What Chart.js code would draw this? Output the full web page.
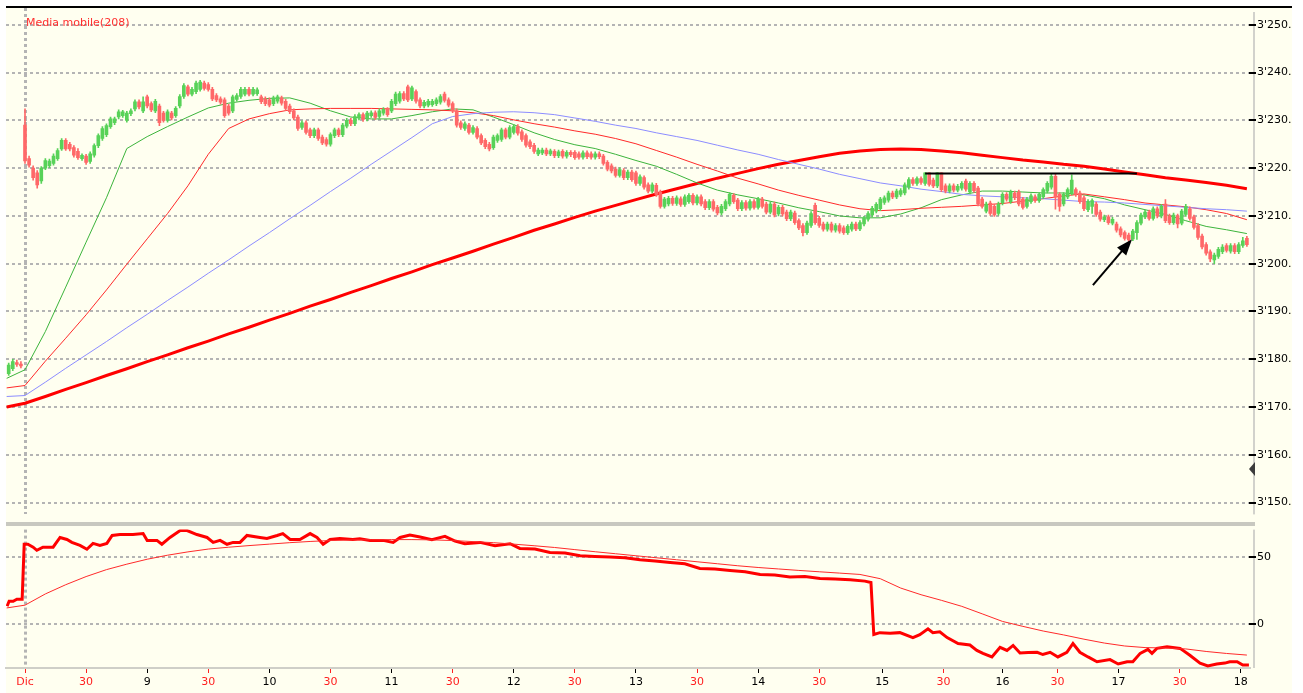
<!DOCTYPE html>
<html>
<head>
<meta charset="utf-8">
<title>Media mobile(208)</title>
<script src="https://cdn.jsdelivr.net/npm/chart.js@4.4.1/dist/chart.umd.min.js"></script>
<style>
  html, body { margin: 0; padding: 0; background: #fff; }
  #wrap { position: relative; width: 1303px; height: 693px; overflow: hidden; }
  .pane { position: absolute; left: 0; width: 1303px; }
  #price-pane { top: 0; height: 522px; }
  #osc-pane { top: 522px; height: 171px; }
</style>
</head>
<body>
<div id="wrap">
  <div class="pane" id="price-pane"><canvas id="price-chart"></canvas></div>
  <div class="pane" id="osc-pane"><canvas id="osc-chart"></canvas></div>
</div>
<script>
// x axis runs in 2-minute bar units, bar 0 = first bar of the day ("Dic")
const timeTickBars = [0, 15, 30, 45, 60, 75, 90, 105, 120, 135, 150, 165, 180, 195, 210.5, 225.5, 240, 253.5, 268.5, 283.5, 298.5];
const timeTickLabels = ["Dic", "30", "9", "30", "10", "30", "11", "30", "12", "30", "13", "30", "14", "30", "15", "30", "16", "30", "17", "30", "18"];

const priceTicks = [3150, 3160, 3170, 3180, 3190, 3200, 3210, 3220, 3230, 3240, 3250];
const priceTickLabels = ["3'150.", "3'160.", "3'170.", "3'180.", "3'190.", "3'200.", "3'210.", "3'220.", "3'230.", "3'240.", "3'250."];
const oscTicks = [0, 50];
const oscTickLabels = ["0", "50"];

// candles, one per 2-minute bar, starting 4 bars before "Dic"
const firstCandleBar = -4;
const opens = [
  3177.0, 3178.0, 3179.3, 3179.0,
  3229.0, 3222.0, 3220.0, 3219.0, 3217.3, 3220.0, 3220.5, 3221.0, 3222.0, 3224.0, 3225.8, 3225.0, 3224.3, 3223.5, 3222.0,
  3222.5, 3221.4, 3222.7, 3224.7, 3226.2, 3227.0, 3228.7, 3229.5, 3230.7, 3231.0, 3230.0, 3231.4, 3232.4, 3233.9, 3232.0,
  3234.9, 3233.5, 3232.0, 3233.0, 3231.5, 3230.0, 3231.5, 3231.0, 3233.0, 3235.0, 3237.0, 3235.5, 3236.0, 3236.5, 3237.8,
  3237.5, 3236.5, 3235.2, 3234.5, 3234.3, 3233.0, 3232.0, 3234.4, 3235.0, 3235.5, 3236.5, 3235.5, 3235.6, 3234.9, 3234.5,
  3234.3, 3233.5, 3234.0, 3234.7, 3234.0, 3233.0, 3232.0, 3230.7, 3228.5, 3229.5, 3228.0, 3226.8, 3228.0, 3226.5, 3226.0,
  3225.0, 3226.8, 3228.0, 3227.0, 3228.8, 3230.0, 3229.3, 3230.5, 3231.2, 3230.3, 3231.0, 3231.6, 3230.8, 3231.5, 3232.3,
  3232.0, 3233.5, 3234.0, 3235.6, 3237.0, 3234.5, 3236.0, 3234.3, 3233.0, 3233.2, 3233.3, 3233.5, 3233.8, 3235.5, 3234.3,
  3233.5, 3232.0, 3229.5, 3228.3, 3229.0, 3227.5, 3228.3, 3226.8, 3225.8, 3225.0, 3224.3, 3225.8, 3226.0, 3228.0, 3226.5,
  3227.5, 3228.7, 3227.6, 3226.8, 3225.5, 3224.8, 3223.0, 3223.2, 3223.8, 3223.0, 3223.5, 3222.6, 3223.5, 3222.5, 3223.3,
  3223.3, 3223.0, 3222.3, 3223.2, 3223.0, 3222.3, 3223.0, 3222.5, 3221.2, 3220.5, 3219.8, 3218.5, 3219.5, 3218.0, 3219.2,
  3219.0, 3216.8, 3218.0, 3216.5, 3215.2, 3216.4, 3215.0, 3212.0, 3212.5, 3213.7, 3212.6, 3213.6, 3212.4, 3213.0, 3214.3,
  3212.7, 3214.0, 3213.0, 3211.7, 3213.0, 3211.8, 3210.6, 3211.5, 3212.5, 3214.3, 3213.3, 3211.5, 3212.8, 3211.6, 3213.0,
  3211.8, 3213.5, 3212.5, 3210.8, 3212.5, 3210.4, 3211.8, 3210.8, 3209.4, 3210.6, 3209.0, 3208.0, 3206.5, 3208.0, 3212.2,
  3209.5, 3208.3, 3207.2, 3208.3, 3207.0, 3208.0, 3207.5, 3206.5, 3207.2, 3208.3, 3207.3, 3208.3, 3209.3, 3210.2, 3211.0,
  3211.5, 3212.8, 3213.3, 3214.8, 3214.0, 3214.5, 3214.8, 3216.0, 3217.6, 3216.8, 3217.8, 3216.8, 3219.0, 3217.5, 3216.3,
  3219.0, 3216.3, 3215.2, 3216.3, 3215.4, 3215.8, 3217.3, 3215.0, 3216.8, 3215.8, 3213.5, 3211.0, 3212.7, 3212.0, 3210.5,
  3212.7, 3214.5, 3213.0, 3214.8, 3215.0, 3213.5, 3212.0, 3213.0, 3214.0, 3213.2, 3214.0, 3215.2, 3216.0, 3218.3, 3214.5,
  3212.5, 3214.0, 3214.8, 3215.5, 3214.8, 3213.8, 3211.3, 3212.0, 3212.5, 3210.8, 3209.2, 3209.8, 3208.5, 3208.3, 3207.3,
  3206.5, 3206.0, 3205.2, 3206.5, 3208.5, 3209.8, 3210.8, 3209.5, 3211.5, 3210.0, 3212.5, 3210.0, 3208.6, 3210.0, 3208.5,
  3210.3, 3211.5, 3209.8, 3208.0, 3205.8, 3204.0, 3202.5, 3200.8, 3201.5, 3202.5, 3203.8, 3202.6, 3203.8, 3202.5, 3203.8, 3205.3
];
const highs = [
  3179.2, 3180.0, 3179.8, 3179.5,
  3232.4, 3222.5, 3220.5, 3219.5, 3220.3, 3222.0, 3221.9, 3223.0, 3224.1, 3226.2, 3226.2, 3225.4, 3224.7, 3224.1, 3223.0,
  3222.9, 3223.4, 3225.1, 3227.2, 3228.7, 3229.3, 3230.7, 3230.7, 3232.2, 3232.1, 3231.9, 3232.4, 3234.3, 3234.3, 3234.9,
  3235.3, 3233.9, 3234.4, 3233.4, 3231.9, 3232.2, 3231.9, 3232.9, 3235.4, 3237.7, 3237.4, 3236.9, 3238.2, 3238.4, 3238.2,
  3237.9, 3236.9, 3235.6, 3234.9, 3234.7, 3233.4, 3235.3, 3235.6, 3236.9, 3236.9, 3236.9, 3236.9, 3236.8, 3235.3, 3234.9,
  3234.7, 3235.1, 3235.3, 3235.1, 3234.4, 3233.4, 3232.4, 3231.1, 3229.9, 3229.9, 3228.4, 3228.4, 3228.4, 3226.9, 3226.4,
  3227.4, 3228.4, 3228.4, 3229.4, 3230.4, 3230.4, 3231.2, 3231.6, 3231.6, 3231.9, 3232.0, 3232.0, 3232.4, 3232.7, 3232.7,
  3234.4, 3235.9, 3236.0, 3236.0, 3237.4, 3237.2, 3236.4, 3234.7, 3234.2, 3234.4, 3234.4, 3234.7, 3235.4, 3235.9, 3234.7,
  3233.9, 3232.4, 3229.9, 3229.7, 3229.4, 3228.9, 3228.7, 3227.2, 3226.2, 3225.4, 3226.9, 3227.2, 3228.4, 3228.4, 3228.9,
  3229.1, 3229.1, 3228.0, 3227.2, 3225.9, 3225.2, 3224.2, 3224.2, 3224.2, 3224.0, 3223.9, 3223.8, 3223.9, 3223.7, 3223.7,
  3223.7, 3223.4, 3223.6, 3223.6, 3223.4, 3223.4, 3223.4, 3222.9, 3221.6, 3220.9, 3220.2, 3220.1, 3219.9, 3219.6, 3219.6,
  3219.4, 3218.6, 3218.4, 3216.9, 3216.9, 3216.8, 3215.4, 3213.9, 3214.1, 3214.1, 3214.2, 3214.0, 3214.4, 3214.7, 3214.7,
  3214.4, 3214.4, 3213.4, 3213.4, 3213.4, 3212.2, 3212.4, 3213.4, 3214.9, 3214.7, 3213.7, 3213.2, 3213.2, 3213.4, 3213.4,
  3213.9, 3213.9, 3212.9, 3212.9, 3212.9, 3212.2, 3212.2, 3211.2, 3211.2, 3211.0, 3209.4, 3208.4, 3208.9, 3210.9, 3212.7,
  3209.9, 3208.7, 3208.7, 3208.7, 3208.4, 3208.4, 3207.9, 3208.2, 3208.7, 3208.7, 3209.0, 3209.9, 3210.9, 3212.0, 3212.8,
  3213.9, 3214.2, 3215.2, 3215.2, 3215.6, 3215.7, 3216.9, 3218.0, 3218.0, 3218.2, 3218.2, 3219.0, 3219.0, 3217.9, 3219.0,
  3219.0, 3216.7, 3216.7, 3216.7, 3216.6, 3217.2, 3217.7, 3217.2, 3217.2, 3216.2, 3213.9, 3212.9, 3213.1, 3212.4, 3212.9,
  3214.9, 3214.9, 3215.4, 3215.2, 3215.4, 3213.9, 3213.9, 3214.6, 3214.4, 3214.9, 3215.9, 3217.2, 3218.9, 3218.9, 3214.9,
  3214.9, 3215.9, 3218.6, 3215.9, 3215.2, 3214.2, 3213.4, 3213.6, 3212.9, 3211.2, 3210.2, 3210.2, 3209.7, 3208.7, 3207.7,
  3206.9, 3206.4, 3207.2, 3209.0, 3210.6, 3211.2, 3211.2, 3211.9, 3211.9, 3212.4, 3213.4, 3210.4, 3210.6, 3210.4, 3211.4,
  3212.4, 3211.9, 3210.2, 3208.4, 3206.2, 3204.4, 3202.9, 3202.2, 3203.4, 3204.0, 3204.2, 3204.2, 3204.2, 3204.4, 3205.5, 3205.7
];
const lows = [
  3176.6, 3177.6, 3178.5, 3178.2,
  3221.0, 3220.2, 3217.5, 3215.8, 3216.8, 3219.7, 3220.1, 3220.6, 3221.6, 3223.7, 3223.7, 3223.6, 3222.3, 3221.8, 3221.6,
  3220.8, 3221.0, 3222.3, 3224.3, 3225.8, 3226.6, 3228.3, 3229.1, 3230.3, 3230.6, 3229.6, 3231.0, 3232.0, 3232.4, 3231.6,
  3232.6, 3231.8, 3231.6, 3228.9, 3229.6, 3229.6, 3230.1, 3230.6, 3232.6, 3234.6, 3235.1, 3235.1, 3235.6, 3236.1, 3236.3,
  3236.1, 3234.1, 3233.9, 3233.4, 3230.6, 3231.1, 3231.6, 3234.0, 3234.6, 3235.1, 3235.1, 3235.1, 3235.2, 3233.5, 3233.1,
  3232.8, 3233.1, 3233.6, 3233.2, 3232.1, 3231.4, 3230.1, 3227.9, 3228.1, 3227.1, 3226.4, 3226.4, 3225.8, 3224.9, 3224.6,
  3224.6, 3226.4, 3226.6, 3226.6, 3228.4, 3228.9, 3228.9, 3230.1, 3229.8, 3229.9, 3230.6, 3230.2, 3230.4, 3231.1, 3230.8,
  3231.6, 3233.1, 3233.6, 3234.1, 3233.9, 3234.1, 3233.6, 3232.6, 3232.6, 3232.8, 3232.9, 3233.1, 3233.4, 3233.8, 3232.8,
  3231.6, 3228.6, 3228.1, 3227.9, 3227.1, 3227.1, 3226.1, 3224.9, 3224.1, 3223.6, 3223.9, 3225.4, 3225.6, 3226.1, 3226.1,
  3227.1, 3226.9, 3225.6, 3224.4, 3224.1, 3223.1, 3222.6, 3222.8, 3222.6, 3222.6, 3222.2, 3222.2, 3222.1, 3222.1, 3222.4,
  3221.8, 3221.9, 3221.9, 3222.0, 3221.9, 3221.9, 3222.0, 3220.6, 3219.4, 3219.0, 3218.1, 3218.1, 3217.6, 3217.6, 3217.2,
  3216.4, 3216.4, 3215.6, 3214.8, 3214.8, 3214.1, 3211.6, 3211.6, 3212.1, 3212.2, 3212.2, 3212.0, 3212.0, 3212.6, 3212.3,
  3212.3, 3212.1, 3211.3, 3211.3, 3211.0, 3210.2, 3210.2, 3211.1, 3212.1, 3212.6, 3211.1, 3211.1, 3211.2, 3211.2, 3211.4,
  3211.4, 3211.6, 3210.4, 3210.4, 3209.8, 3210.0, 3210.0, 3209.0, 3209.0, 3208.2, 3207.1, 3205.8, 3206.1, 3207.6, 3208.2,
  3207.6, 3206.8, 3206.8, 3206.6, 3206.6, 3206.4, 3206.1, 3206.1, 3206.8, 3206.9, 3206.9, 3207.9, 3208.9, 3209.8, 3210.6,
  3211.1, 3212.4, 3212.9, 3213.6, 3213.6, 3214.1, 3214.4, 3215.6, 3216.4, 3216.4, 3216.6, 3216.4, 3216.2, 3215.9, 3215.9,
  3215.1, 3214.8, 3214.8, 3215.0, 3215.0, 3215.4, 3215.2, 3214.6, 3214.9, 3212.1, 3211.6, 3210.6, 3210.1, 3209.9, 3210.1,
  3212.3, 3213.1, 3212.6, 3213.4, 3212.1, 3211.4, 3211.6, 3212.6, 3212.8, 3212.8, 3213.6, 3214.8, 3215.6, 3211.4, 3211.0,
  3212.1, 3213.6, 3214.4, 3214.1, 3212.6, 3211.1, 3210.9, 3210.5, 3209.9, 3208.9, 3208.8, 3208.2, 3208.1, 3206.6, 3205.6,
  3204.9, 3204.6, 3204.8, 3205.1, 3208.1, 3209.4, 3209.1, 3209.1, 3209.6, 3209.6, 3208.6, 3208.2, 3208.2, 3207.5, 3208.1,
  3209.9, 3209.1, 3207.2, 3205.1, 3203.1, 3201.8, 3200.4, 3200.0, 3201.1, 3202.1, 3202.4, 3202.2, 3202.1, 3202.1, 3203.4, 3203.6
];
const closes = [
  3178.8, 3179.5, 3178.9, 3178.6,
  3221.5, 3220.6, 3218.0, 3216.5, 3220.0, 3221.6, 3221.5, 3222.5, 3223.7, 3225.8, 3224.0, 3224.0, 3222.7, 3222.2, 3222.7,
  3221.2, 3223.0, 3224.7, 3226.8, 3228.3, 3228.9, 3230.3, 3230.3, 3231.8, 3231.8, 3231.5, 3232.0, 3233.9, 3232.8, 3233.9,
  3233.0, 3232.2, 3234.0, 3229.5, 3230.0, 3231.8, 3230.5, 3232.5, 3235.0, 3237.3, 3235.5, 3236.5, 3237.8, 3238.0, 3236.7,
  3236.5, 3234.5, 3234.3, 3233.8, 3231.0, 3231.5, 3234.9, 3235.2, 3236.5, 3236.5, 3235.5, 3236.5, 3236.4, 3233.9, 3233.5,
  3233.2, 3234.7, 3234.9, 3233.6, 3232.5, 3231.8, 3230.5, 3228.3, 3229.5, 3227.5, 3226.8, 3228.0, 3226.2, 3225.3, 3225.0,
  3227.0, 3228.0, 3227.0, 3229.0, 3230.0, 3229.3, 3230.8, 3231.2, 3230.2, 3231.5, 3231.6, 3230.6, 3232.0, 3232.3, 3231.2,
  3234.0, 3235.5, 3235.6, 3234.5, 3234.3, 3236.8, 3234.0, 3233.0, 3233.8, 3234.0, 3234.0, 3234.3, 3235.0, 3234.2, 3233.2,
  3232.0, 3229.0, 3228.5, 3229.3, 3227.5, 3228.5, 3226.5, 3225.3, 3224.5, 3224.0, 3226.5, 3226.8, 3228.0, 3226.5, 3228.5,
  3228.7, 3227.3, 3226.0, 3224.8, 3224.5, 3223.5, 3223.8, 3223.8, 3223.0, 3223.6, 3222.6, 3223.4, 3222.5, 3223.3, 3222.8,
  3222.2, 3222.3, 3223.2, 3222.4, 3222.3, 3223.0, 3222.4, 3221.0, 3219.8, 3219.4, 3218.5, 3219.7, 3218.0, 3219.2, 3217.6,
  3216.8, 3218.2, 3216.0, 3215.2, 3216.5, 3214.5, 3212.0, 3213.5, 3213.7, 3212.6, 3213.8, 3212.4, 3214.0, 3214.3, 3212.7,
  3214.0, 3212.5, 3211.7, 3213.0, 3211.4, 3210.6, 3212.0, 3213.0, 3214.5, 3213.0, 3211.5, 3212.8, 3211.6, 3213.0, 3211.8,
  3213.5, 3212.0, 3210.8, 3212.5, 3210.2, 3211.8, 3210.4, 3209.4, 3210.8, 3208.6, 3207.5, 3206.5, 3208.5, 3210.5, 3208.6,
  3208.0, 3207.2, 3208.3, 3207.0, 3208.0, 3206.8, 3206.5, 3207.8, 3208.3, 3207.3, 3208.6, 3209.5, 3210.5, 3211.6, 3212.4,
  3213.5, 3213.8, 3214.8, 3214.0, 3215.2, 3215.3, 3216.5, 3217.6, 3216.8, 3217.8, 3217.0, 3219.0, 3216.6, 3216.3, 3219.0,
  3215.5, 3215.2, 3216.3, 3215.4, 3216.2, 3216.8, 3215.6, 3216.8, 3215.3, 3212.5, 3212.0, 3212.5, 3210.5, 3210.2, 3212.5,
  3214.5, 3213.5, 3215.0, 3213.8, 3212.5, 3211.8, 3213.5, 3214.2, 3213.2, 3214.5, 3215.5, 3216.8, 3218.3, 3214.0, 3212.0,
  3214.5, 3215.5, 3217.5, 3214.5, 3213.0, 3211.5, 3213.0, 3213.2, 3210.3, 3209.3, 3209.8, 3208.6, 3209.3, 3207.0, 3206.0,
  3205.3, 3205.0, 3206.8, 3208.6, 3210.2, 3210.8, 3209.5, 3211.5, 3210.0, 3212.0, 3209.0, 3208.6, 3210.2, 3208.3, 3211.0,
  3212.0, 3209.5, 3207.6, 3205.5, 3203.5, 3202.2, 3201.0, 3201.8, 3203.0, 3203.5, 3202.8, 3203.8, 3202.5, 3204.0, 3204.8, 3204.0
];

// moving averages, read every 5 bars (first point at the left edge)
const maSampleBars = [-4.5].concat(Array.from({ length: 61 }, (_, i) => i * 5));
const maGreen = [
  3176.0, 3177.8, 3185.8, 3195.1, 3204.5, 3213.8, 3224.1, 3226.6, 3228.7, 3230.7, 3232.6, 3233.6, 3234.2, 3234.6, 3234.7, 3233.6,
  3232.0, 3230.7, 3230.3, 3230.3, 3231.0, 3231.8, 3232.4, 3232.2, 3230.7, 3229.1, 3227.4, 3226.0, 3224.9, 3224.1, 3222.9, 3221.6,
  3220.4, 3218.7, 3216.9, 3215.4, 3214.4, 3213.6, 3212.7, 3211.7, 3210.9, 3210.0, 3209.6, 3209.6, 3210.4, 3211.7, 3213.4, 3214.4,
  3215.2, 3215.2, 3215.0, 3214.8, 3214.8, 3214.4, 3213.6, 3212.3, 3211.3, 3210.3, 3209.0, 3207.8, 3207.1, 3206.3
];
const maRed = [
  3174.0, 3174.5, 3179.6, 3184.4, 3189.3, 3194.5, 3199.9, 3205.2, 3210.5, 3216.3, 3222.9, 3228.3, 3230.3, 3231.4, 3232.2, 3232.4,
  3232.5, 3232.5, 3232.5, 3232.4, 3232.3, 3232.2, 3232.0, 3231.6, 3231.0, 3230.1, 3229.3, 3228.6, 3227.8, 3227.1, 3226.2, 3225.1,
  3223.7, 3222.3, 3220.8, 3219.4, 3217.9, 3216.7, 3215.4, 3214.3, 3213.3, 3212.3, 3211.5, 3211.1, 3211.3, 3211.6, 3211.8, 3212.0,
  3212.3, 3212.6, 3213.1, 3213.6, 3214.2, 3214.6, 3214.0, 3213.4, 3212.7, 3212.3, 3211.9, 3211.3, 3210.5, 3209.2
];
const maBlue = [
  3172.2, 3172.4, 3175.2, 3178.1, 3180.9, 3183.7, 3186.6, 3189.4, 3192.3, 3195.1, 3198.0, 3200.8, 3203.7, 3206.5, 3209.4, 3212.2,
  3215.1, 3217.9, 3220.8, 3223.6, 3226.4, 3229.3, 3230.8, 3231.4, 3231.7, 3231.8, 3231.6, 3231.2, 3230.5, 3229.8, 3229.0, 3228.3,
  3227.4, 3226.6, 3225.8, 3224.8, 3223.8, 3222.9, 3221.8, 3220.8, 3219.8, 3218.7, 3217.8, 3216.9, 3216.3, 3215.6, 3215.1, 3214.5,
  3214.2, 3214.0, 3213.8, 3213.6, 3213.3, 3213.0, 3212.9, 3212.7, 3212.4, 3212.1, 3211.8, 3211.5, 3211.3, 3211.0
];
const ma208 = [
  3170.0, 3170.8, 3172.2, 3173.7, 3175.1, 3176.6, 3178.0, 3179.5, 3180.9, 3182.4, 3183.8, 3185.3, 3186.7, 3188.2, 3189.6, 3191.1,
  3192.5, 3194.0, 3195.4, 3196.9, 3198.3, 3199.8, 3201.2, 3202.6, 3204.1, 3205.5, 3207.0, 3208.3, 3209.7, 3211.0, 3212.2, 3213.4,
  3214.6, 3215.7, 3216.8, 3217.9, 3218.9, 3219.9, 3220.8, 3221.6, 3222.4, 3223.1, 3223.6, 3223.9, 3224.0, 3223.9, 3223.6, 3223.2,
  3222.7, 3222.2, 3221.7, 3221.3, 3220.8, 3220.4, 3219.8, 3219.2, 3218.6, 3218.0, 3217.5, 3217.0, 3216.4, 3215.7
];

// lower panel: oscillator (thick) and its signal (thin, on the MA sample bars)
const oscBars = [
  -4.4, -3.9, -2.9, -2.0, -0.7, -0.2, 0.7, 2.0, 2.9, 4.4, 6.9, 8.6, 10.3, 11.5, 13.5, 15.2, 16.7, 18.4, 20.1, 21.4,
  23.3, 26.5, 29.0, 30.0, 32.4, 33.6, 35.6, 38.1, 39.8, 42.2, 44.7, 46.2, 47.9, 49.6, 51.1, 52.8, 54.5, 57.7, 59.4, 61.9,
  63.3, 65.1, 67.5, 70.0, 71.7, 73.2, 74.9, 77.3, 80.5, 82.2, 84.7, 87.9, 90.4, 92.1, 94.5, 97.0, 99.9, 103.1, 105.6, 108.0,
  111.7, 115.4, 119.1, 121.5, 125.2, 128.9, 132.6, 136.3, 139.9, 143.6, 147.3, 151.0, 154.7, 158.4, 162.0, 165.7, 169.4, 173.1, 176.8, 180.5,
  184.1, 187.8, 191.5, 195.2, 198.9, 202.6, 206.2, 207.7, 208.4, 209.9, 212.4, 214.8, 218.0, 219.7, 221.7, 222.9, 224.6, 226.4, 229.1, 232.0,
  233.7, 235.2, 237.4, 239.4, 241.1, 242.6, 244.3, 246.3, 248.5, 249.9, 251.7, 253.6, 255.8, 257.3, 259.0, 261.0, 263.2, 266.4, 268.4, 270.6,
  272.0, 273.8, 275.7, 276.7, 277.9, 280.4, 283.6, 286.0, 288.5, 290.4, 292.6, 294.6, 295.8, 297.6, 299.0, 300.5
];
const oscFast = [
  13.2, 16.9, 16.9, 18.4, 18.4, 59.6, 59.6, 57.4, 55.1, 57.4, 57.4, 64.7, 63.2, 61.0, 58.8, 55.9, 60.3, 58.8, 60.3, 66.2,
  66.9, 66.9, 67.6, 62.5, 62.5, 59.6, 64.7, 69.9, 69.9, 66.9, 64.7, 61.0, 62.5, 59.6, 61.0, 61.0, 66.2, 64.7, 64.0, 66.2,
  67.6, 63.2, 63.2, 67.6, 64.7, 59.6, 63.2, 64.0, 63.2, 63.7, 62.5, 62.5, 61.0, 64.7, 66.5, 65.0, 63.0, 65.5, 62.0, 60.0,
  61.0, 58.5, 60.0, 56.5, 56.0, 53.5, 53.0, 51.0, 50.5, 50.0, 49.5, 48.0, 47.0, 46.0, 45.0, 41.5, 41.0, 40.0, 39.0, 37.0,
  36.5, 35.0, 35.5, 34.0, 33.5, 33.0, 32.0, 31.0, -8.0, -6.6, -7.0, -6.6, -10.3, -8.1, -3.7, -6.6, -5.9, -10.3, -14.7, -15.9,
  -19.9, -22.1, -24.8, -17.6, -19.9, -16.2, -21.8, -21.5, -21.3, -23.0, -21.3, -24.8, -21.3, -14.7, -21.3, -24.8, -28.4, -26.8, -30.1, -28.4,
  -28.4, -22.1, -19.1, -22.1, -18.4, -17.1, -18.4, -23.5, -29.4, -31.6, -30.1, -29.4, -28.4, -28.4, -30.9, -30.9
];
const oscSignal = [
  11.9, 14.0, 22.4, 29.3, 35.4, 40.6, 44.7, 48.4, 51.4, 53.9, 56.0, 57.4, 58.6, 59.7, 60.8, 61.7,
  62.4, 62.8, 63.0, 63.1, 63.1, 62.9, 62.4, 61.6, 60.8, 59.7, 58.5, 57.2, 55.6, 54.0, 52.5, 51.0,
  49.5, 48.0, 46.5, 45.0, 43.5, 42.2, 41.1, 40.0, 39.0, 38.0, 37.0, 33.8, 26.8, 21.8, 17.6, 13.1,
  7.5, 1.8, -1.9, -5.4, -8.3, -11.5, -14.4, -16.6, -17.8, -18.1, -18.8, -20.7, -22.2, -23.4
];

// drawn notes on the price panel
const resistance = { fromBar: 221, toBar: 273, price: 3218.9 };
const arrowTail = [262.2, 3195.5];
const arrowTip = [271.8, 3205.1];
const scrollMarkPrice = 3157.0;

const paneColor = "#fffff0";
const gridColor = "#b4b4b4";
const axisRed = "#ff2020";
const upColor = "#58d258";
const downColor = "#ff6868";

Chart.defaults.font.family = "'DejaVu Sans', sans-serif";
Chart.defaults.font.size = 11;

const candleBars = opens.map((_, i) => firstCandleBar + i);
const candleColors = opens.map((o, i) => closes[i] >= o ? upColor : downColor);
const isRedLabel = i => timeTickLabels[i] === "Dic" || timeTickLabels[i] === "30";

function barAxis(showLabels) {
    return {
        type: "linear",
        min: -4.665,
        max: 300.52,
        offset: false,
        afterBuildTicks: axis => { axis.ticks = timeTickBars.map(v => ({ value: v })); },
        afterFit: axis => { axis.height = showLabels ? 25 : 0; },
        grid: {
            offset: false,
            color: c => (c.tick && c.tick.value === 0) ? gridColor : "rgba(0,0,0,0)",
            lineWidth: 3,
            drawTicks: showLabels,
            tickLength: 5,
            tickWidth: 1,
            tickColor: c => isRedLabel(c.index) ? axisRed : "#000"
        },
        border: { display: showLabels, color: "#cfcfc8", width: 2, dash: [3, 3] },
        ticks: {
            display: showLabels,
            autoSkip: false,
            maxRotation: 0,
            padding: 3,
            color: c => isRedLabel(c.index) ? axisRed : "#000",
            callback: (v, i) => timeTickLabels[i]
        }
    };
}

function valueAxis(min, max, ticks, labels) {
    return {
        position: "right",
        min: min,
        max: max,
        afterBuildTicks: axis => { axis.ticks = ticks.map(v => ({ value: v })); },
        afterFit: axis => { axis.width = 54; },
        grid: { color: gridColor, lineWidth: 2, tickLength: 7, tickWidth: 2, tickColor: "#000" },
        border: { display: false, dash: [3, 3] },
        ticks: { autoSkip: false, padding: 1, color: "#000", callback: (v, i) => labels[i] }
    };
}

function line(data, bars, color, width) {
    return {
        type: "line",
        data: bars.map((b, i) => ({ x: b, y: data[i] })),
        borderColor: color,
        borderWidth: width,
        pointRadius: 0,
        tension: 0,
        fill: false,
        order: 2
    };
}

const priceDecor = {
    id: "priceDecor",
    beforeDraw(chart) {
        const { ctx, chartArea: a } = chart;
        ctx.save();
        ctx.fillStyle = paneColor;
        ctx.fillRect(6, 8, chart.width - 17, chart.height - 8);
        ctx.fillStyle = "#000";
        ctx.fillRect(6, 6, chart.width - 17, 2);
        ctx.fillStyle = "#d2d2cc";
        ctx.fillRect(a.right + 4, a.top + 4, 2, a.bottom - a.top - 4);
        ctx.restore();
    },
    afterDatasetsDraw(chart) {
        const { ctx, scales: { x, y } } = chart;
        ctx.save();
        ctx.strokeStyle = "#000";
        ctx.fillStyle = "#000";
        ctx.lineWidth = 2;
        const ry = y.getPixelForValue(resistance.price);
        ctx.beginPath();
        ctx.moveTo(x.getPixelForValue(resistance.fromBar), ry);
        ctx.lineTo(x.getPixelForValue(resistance.toBar), ry);
        ctx.stroke();

        const tx = x.getPixelForValue(arrowTail[0]), ty = y.getPixelForValue(arrowTail[1]);
        const hx = x.getPixelForValue(arrowTip[0]), hy = y.getPixelForValue(arrowTip[1]);
        const ang = Math.atan2(hy - ty, hx - tx);
        const c = Math.cos(ang), s = Math.sin(ang);
        ctx.beginPath();
        ctx.moveTo(tx, ty);
        ctx.lineTo(hx - 12 * c, hy - 12 * s);
        ctx.stroke();
        ctx.beginPath();
        ctx.moveTo(hx, hy);
        ctx.lineTo(hx - 16 * c + 6 * s, hy - 16 * s - 6 * c);
        ctx.lineTo(hx - 16 * c - 6 * s, hy - 16 * s + 6 * c);
        ctx.closePath();
        ctx.fill();
        ctx.restore();
    },
    afterDraw(chart) {
        const { ctx, chartArea: a, scales: { y } } = chart;
        ctx.save();
        const my = y.getPixelForValue(scrollMarkPrice);
        ctx.fillStyle = "#3c3c3c";
        ctx.beginPath();
        ctx.moveTo(a.right, my);
        ctx.lineTo(a.right + 6, my - 7);
        ctx.lineTo(a.right + 6, my + 7);
        ctx.closePath();
        ctx.fill();
        ctx.font = "11px 'DejaVu Sans'";
        ctx.fillStyle = "#ff3030";
        ctx.textBaseline = "alphabetic";
        ctx.fillText("Media mobile(208)", a.left + 20, 26);
        ctx.restore();
    }
};

const oscDecor = {
    id: "oscDecor",
    beforeDraw(chart) {
        const { ctx, chartArea: a } = chart;
        ctx.save();
        ctx.fillStyle = paneColor;
        ctx.fillRect(6, 0, chart.width - 17, chart.height);
        ctx.fillStyle = "#c8c8c0";
        ctx.fillRect(6, 0, a.right - 6 + 6, 4);
        ctx.fillStyle = "#d2d2cc";
        ctx.fillRect(a.right + 4, a.top, 2, a.bottom - a.top);
        ctx.restore();
    }
};

const commonOptions = {
    responsive: true,
    maintainAspectRatio: false,
    animation: false,
    events: [],
    plugins: { legend: { display: false }, tooltip: { enabled: false } }
};

new Chart(document.getElementById("price-chart"), {
    type: "bar",
    data: {
        datasets: [
            {
                type: "bar",
                data: candleBars.map((b, i) => ({ x: b, y: [lows[i], highs[i]] })),
                backgroundColor: candleColors,
                barThickness: 1,
                grouped: false,
                order: 1
            },
            {
                type: "bar",
                data: candleBars.map((b, i) => ({ x: b, y: [opens[i], closes[i]] })),
                backgroundColor: candleColors,
                barThickness: 3,
                minBarLength: 1,
                grouped: false,
                order: 0
            },
            line(maBlue, maSampleBars, "#8c8cff", 1),
            line(maRed, maSampleBars, "#ff2a2a", 1),
            line(maGreen, maSampleBars, "#3cb43c", 1),
            line(ma208, maSampleBars, "#ff0000", 3)
        ]
    },
    options: Object.assign({}, commonOptions, {
        layout: { padding: { left: 6, top: 8, bottom: 2, right: 0 } },
        scales: {
            x: barAxis(false),
            y: valueAxis(3147.52, 3253.52, priceTicks, priceTickLabels)
        }
    }),
    plugins: [priceDecor]
});

new Chart(document.getElementById("osc-chart"), {
    type: "line",
    data: {
        datasets: [
            line(oscSignal, maSampleBars, "#ff2a2a", 1),
            line(oscFast, oscBars, "#ff0000", 3)
        ]
    },
    options: Object.assign({}, commonOptions, {
        layout: { padding: { left: 6, top: 5, bottom: 0, right: 0 } },
        scales: {
            x: barAxis(true),
            y: valueAxis(-33.09, 70.59, oscTicks, oscTickLabels)
        }
    }),
    plugins: [oscDecor]
});
</script>
</body>
</html>
